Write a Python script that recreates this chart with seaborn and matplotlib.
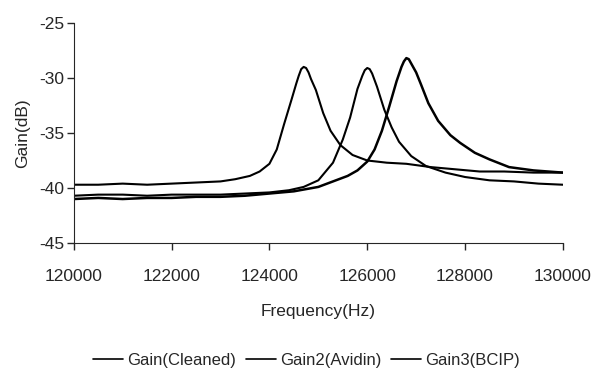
import pandas as pd
import matplotlib
matplotlib.use("Agg")
import matplotlib.pyplot as plt
import seaborn as sns

# Gain(Cleaned) - highest resonance
freq_cleaned = [120000, 120500, 121000, 121500, 122000, 122500, 123000, 123500, 124000, 124500,
                125000, 125300, 125600, 125800, 126000, 126150, 126300, 126450, 126600, 126700,
                126750, 126800, 126850, 126900, 127000, 127100, 127250, 127450, 127700, 127900,
                128200, 128500, 128900, 129400, 130000]
gain_cleaned = [-41.0, -40.9, -41.0, -40.9, -40.9, -40.8, -40.8, -40.7, -40.5, -40.3,
                -39.9, -39.4, -38.9, -38.4, -37.6, -36.5, -34.8, -32.6, -30.3, -29.0,
                -28.5, -28.2, -28.3, -28.7, -29.5, -30.6, -32.3, -33.9, -35.2, -35.9,
                -36.8, -37.4, -38.1, -38.4, -38.6]

# Gain2(Avidin)
freq_avidin = [120000, 120500, 121000, 121500, 122000, 122500, 123000, 123500, 124000, 124400,
               124700, 125000, 125300, 125500, 125650, 125800, 125900, 125950, 126000, 126050,
               126100, 126200, 126350, 126500, 126650, 126900, 127200, 127600, 128000, 128500,
               129000, 129500, 130000]
gain_avidin = [-40.7, -40.6, -40.6, -40.7, -40.6, -40.6, -40.6, -40.5, -40.4, -40.2,
               -39.9, -39.3, -37.7, -35.6, -33.6, -31.0, -29.8, -29.3, -29.1, -29.2,
               -29.6, -30.8, -32.9, -34.5, -35.8, -37.1, -38.0, -38.6, -39.0, -39.3,
               -39.4, -39.6, -39.7]

# Gain3(BCIP)
freq_bcip = [120000, 120500, 121000, 121500, 122000, 122500, 123000, 123300, 123600, 123800,
             124000, 124150, 124300, 124450, 124550, 124600, 124650, 124700, 124750, 124800,
             124850, 124950, 125100, 125250, 125450, 125700, 126000, 126400, 126800, 127300,
             127800, 128300, 128800, 129400, 130000]
gain_bcip = [-39.7, -39.7, -39.6, -39.7, -39.6, -39.5, -39.4, -39.2, -38.9, -38.5,
             -37.8, -36.5, -34.2, -32.0, -30.5, -29.8, -29.2, -29.0, -29.1, -29.5,
             -30.1, -31.1, -33.2, -34.8, -36.1, -37.0, -37.5, -37.7, -37.8, -38.1,
             -38.3, -38.5, -38.5, -38.6, -38.6]

labels = ["Gain(Cleaned)", "Gain2(Avidin)", "Gain3(BCIP)"]
x_ticks = [120000, 122000, 124000, 126000, 128000, 130000]
y_ticks = [-45, -40, -35, -30, -25]

frames = []
for name, f, g in zip(labels, [freq_cleaned, freq_avidin, freq_bcip],
                      [gain_cleaned, gain_avidin, gain_bcip]):
    frames.append(pd.DataFrame({"Frequency": f, "Gain": g, "Series": name}))
df = pd.concat(frames, ignore_index=True)

sns.set_style("ticks")
plt.rcParams['font.family'] = ['Liberation Sans', 'DejaVu Sans']
plt.rcParams['axes.unicode_minus'] = False

fig = plt.figure(figsize=(5.95, 3.81), dpi=100)
ax = fig.add_axes([0.124, 0.362, 0.822, 0.578])

widths = {labels[0]: 1.8, labels[1]: 1.5, labels[2]: 1.5}
sns.lineplot(data=df, x="Frequency", y="Gain", hue="Series", hue_order=labels,
             palette=["black"] * 3, size="Series", sizes=widths,
             sort=False, ax=ax, legend=False)

ax.set_xlim(120000, 130000)
ax.set_ylim(-45, -25)
ax.set_xticks(x_ticks)
ax.set_xticklabels([str(t) for t in x_ticks])
ax.set_yticks(y_ticks)
ax.tick_params(labelsize=12.5, length=5, width=1, pad=14, axis="x")
ax.tick_params(labelsize=12.5, length=5, width=1, pad=2, axis="y")
ax.set_xlabel("Frequency(Hz)", fontsize=12.5, labelpad=14)
ax.set_ylabel("Gain(dB)", fontsize=12.5, labelpad=6)
sns.despine(ax=ax)

handles = [plt.Line2D([], [], color="black", lw=1.2) for l in labels]
fig.legend(handles, labels, loc="center", bbox_to_anchor=(0.515, 0.055), ncol=3,
           frameon=False, fontsize=12, handlelength=1.8, handletextpad=0.25, columnspacing=0.6)

fig.savefig("out.png", dpi=100)
